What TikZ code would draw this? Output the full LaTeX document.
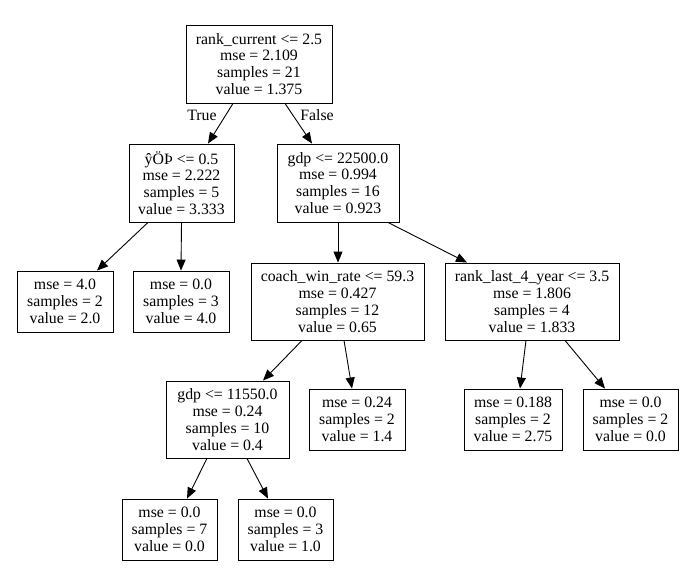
\documentclass[tikz,border=0pt]{standalone}
\usepackage{fontspec}
\setmainfont{Liberation Serif}
\usetikzlibrary{arrows.meta}

\begin{document}
\begin{tikzpicture}[x=1pt,y=-1pt,
  box/.style={draw,line width=0.9pt,align=center,inner sep=0pt,
    font=\fontsize{15.8}{16.8}\selectfont,minimum width=#1},
  split/.style={box=#1,minimum height=78pt},
  leaf/.style={box=#1,minimum height=61pt},
  edge/.style={line width=0.9pt,-{Triangle[length=11pt,width=9pt]}},
  lbl/.style={font=\fontsize{15.8}{16.8}\selectfont}]
\useasboundingbox (0,0) rectangle (691,573);
%\draw[step=50,gray,very thin] (0,0) grid (691,573); %background grid
\node[split=146pt] (root) at (259,64) {rank\_current <= 2.5\\mse = 2.109\\samples = 21\\value = 1.375};
\node[split=105pt] (yo) at (181.5,183) {ŷÖÞ <= 0.5\\mse = 2.222\\samples = 5\\value = 3.333};
\node[split=122pt] (gdpA) at (338,183) {gdp <= 22500.0\\mse = 0.994\\samples = 16\\value = 0.923};
\node[leaf=96pt] (leafA) at (65,301.5) {mse = 4.0\\samples = 2\\value = 2.0};
\node[leaf=96pt] (leafB) at (181,301.5) {mse = 0.0\\samples = 3\\value = 4.0};
\node[split=173pt,minimum height=77pt] (coach) at (337.5,301.5) {coach\_win\_rate <= 59.3\\mse = 0.427\\samples = 12\\value = 0.65};
\node[split=174pt,minimum height=77pt] (rankl) at (532,301.5) {rank\_last\_4\_year <= 3.5\\mse = 1.806\\samples = 4\\value = 1.833};
\node[split=123pt,minimum height=77pt] (gdpB) at (227.5,419.5) {gdp <= 11550.0\\mse = 0.24\\samples = 10\\value = 0.4};
\node[leaf=96pt] (leafC) at (357,419.5) {mse = 0.24\\samples = 2\\value = 1.4};
\node[leaf=98pt] (leafD) at (513,419.5) {mse = 0.188\\samples = 2\\value = 2.75};
\node[leaf=95pt] (leafE) at (630.5,419.5) {mse = 0.0\\samples = 2\\value = 0.0};
\node[leaf=95pt] (leafF) at (169.5,529.5) {mse = 0.0\\samples = 7\\value = 0.0};
\node[leaf=95pt] (leafG) at (285.5,529.5) {mse = 0.0\\samples = 3\\value = 1.0};
\node[lbl] (true) at (202,115) {True};
\node[lbl] (false) at (317,115) {False};

\draw[edge] ([xshift=-26pt]root.south) -- ([xshift=26.5pt]yo.north);
\draw[edge] ([xshift=26pt]root.south) -- ([xshift=-26pt]gdpA.north);
\draw[edge] ([xshift=-33.5pt]yo.south) -- ([xshift=32pt]leafA.north);
\draw[edge] (yo.south) -- (leafB.north);
\draw[edge] (gdpA.south) -- ([xshift=0.5pt]coach.north);
\draw[edge] ([xshift=50pt]gdpA.south) -- ([xshift=-65pt]rankl.north);
\draw[edge] ([xshift=-35.5pt]coach.south) -- ([xshift=35.5pt]gdpB.north);
\draw[edge] ([xshift=6.5pt]coach.south) -- ([xshift=-5pt]leafC.north);
\draw[edge] ([xshift=-6pt]rankl.south) -- ([xshift=7pt]leafD.north);
\draw[edge] ([xshift=33pt]rankl.south) -- ([xshift=-25.5pt]leafE.north);
\draw[edge] ([xshift=-20.5pt]gdpB.south) -- ([xshift=17.5pt]leafF.north);
\draw[edge] ([xshift=19.5pt]gdpB.south) -- ([xshift=-17.5pt]leafG.north);
\end{tikzpicture}
\end{document}
